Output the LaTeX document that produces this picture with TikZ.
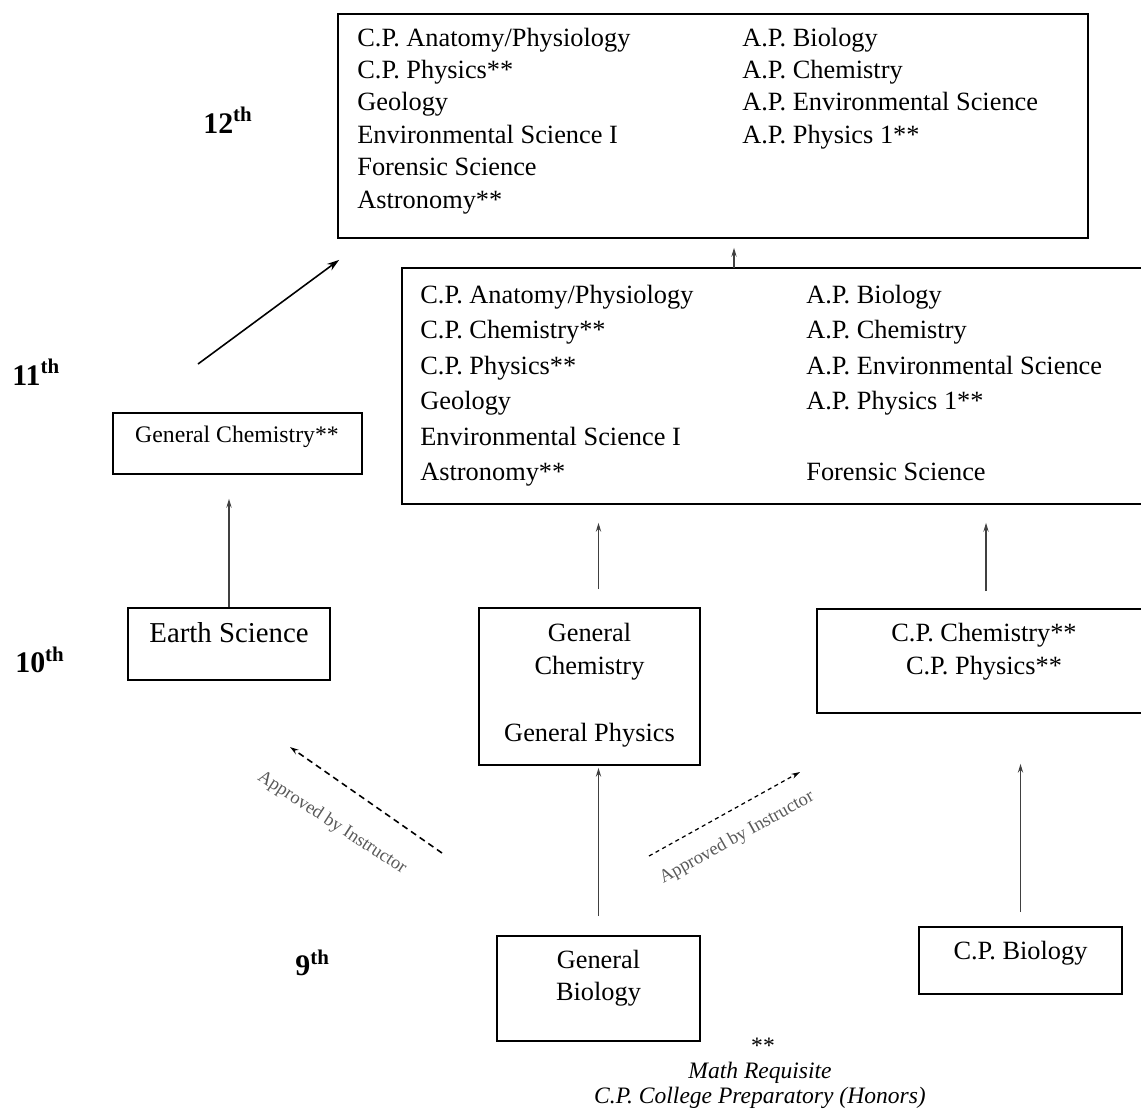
\documentclass[tikz,border=0pt]{standalone}
\usepackage{fontspec}
\setmainfont{Liberation Serif}
\usetikzlibrary{calc,fit,arrows.meta}
\tikzset{>={Stealth[length=5pt,width=3pt]}}
\tikzset{
  box/.style={draw,line width=1pt,inner sep=0pt},
  item/.style={anchor=base west,inner sep=0pt,font=\fontsize{15}{18}\selectfont},
  ctext/.style={anchor=base,inner sep=0pt,font=\fontsize{15}{18}\selectfont},
  grade/.style={anchor=base west,inner sep=0pt,font=\fontsize{17}{20}\selectfont\bfseries},
  link/.style={->,black!75,line width=0.6pt},
  approved/.style={->,line width=0.9pt},
  note/.style={inner sep=0pt,font=\fontsize{10.5}{12}\selectfont,text=black!65},
}

\begin{document}
\begin{tikzpicture}[x=0.02cm,y=-0.02cm]
\useasboundingbox (0,0) rectangle (1141,1113);
% grades
\node[grade] (g12) at (203,133) {12\textsuperscript{th}};
\node[grade] (g11) at (12,385) {11\textsuperscript{th}};
\node[grade] (g10) at (15,672) {10\textsuperscript{th}};
\node[grade] (g9) at (295,975) {9\textsuperscript{th}};

% 12th
\node[box,fit={(338,14) (1088,238)}] (y12) {};
\foreach \c [count=\i] in {C.P. Anatomy/Physiology,C.P. Physics**,Geology,Environmental Science I,Forensic Science,Astronomy**}
  \node[item] (l12\i) at (357,{46+32.4*(\i-1)}) {\c};
\foreach \c [count=\i] in {A.P. Biology,A.P. Chemistry,A.P. Environmental Science,A.P. Physics 1**}
  \node[item] (r12\i) at (742,{46+32.4*(\i-1)}) {\c};

% 11th
\node[box,fit={(402,268) (1170,504)}] (y11) {};
\foreach \c [count=\i] in {C.P. Anatomy/Physiology,C.P. Chemistry**,C.P. Physics**,Geology,Environmental Science I,Astronomy**}
  \node[item] (l11\i) at (420,{303+35.5*(\i-1)}) {\c};
\foreach \c [count=\i] in {A.P. Biology,A.P. Chemistry,A.P. Environmental Science,A.P. Physics 1**}
  \node[item] (r11\i) at (806,{303+35.5*(\i-1)}) {\c};
\node[item] (r11f) at (806,480.5) {Forensic Science};

\node[box,fit={(113,413) (362,474)}] (gc11) {};
\node[ctext,font=\fontsize{13.5}{16}\selectfont] (gc11t) at (237,442) {General Chemistry**};

% 10th
\node[box,fit={(128,608) (330,680)}] (earth) {};
\node[ctext,font=\fontsize{16.4}{19}\selectfont] (eartht) at (229,642) {Earth Science};

\node[box,fit={(479,608) (700,765)}] (gen10) {};
\node[ctext] (gen10a) at (589.5,641) {General};
\node[ctext] (gen10b) at (589.5,674) {Chemistry};
\node[ctext] (gen10c) at (589.5,741) {General Physics};

\node[box,fit={(817,609) (1155,713)}] (cp10) {};
\node[ctext] (cp10a) at (984,641) {C.P. Chemistry**};
\node[ctext] (cp10b) at (984,674) {C.P. Physics**};

% 9th
\node[box,fit={(497,936) (700,1041)}] (genbio) {};
\node[ctext] (genbioa) at (598.5,968) {General};
\node[ctext] (genbiob) at (598.5,1000) {Biology};

\node[box,fit={(919,927) (1122,994)}] (cpbio) {};
\node[ctext] (cpbiot) at (1020.5,959) {C.P. Biology};

% links
\coordinate (up12) at (734,268);
\draw[link,shorten >=0.18cm] (up12) -- (up12 |- y12.south);
\coordinate (dg) at (198,364);
\draw[->,line width=0.9pt,>={Stealth[length=7pt,width=4.5pt]}] (dg) -- ($(y12.south west)+(2,21)$);
\draw[link,shorten >=0.48cm] (earth.north) -- (earth.north |- gc11.south);
\draw[link,shorten <=0.36cm,shorten >=0.36cm] (genbio.north |- gen10.north) -- (genbio.north |- y11.south);
\draw[link,shorten <=0.34cm,shorten >=0.36cm] (cp10.north) -- (cp10.north |- y11.south);
\draw[link,shorten <=0.38cm,shorten >=0.04cm] (genbio.north) -- (genbio.north |- gen10.south);
\draw[link,shorten <=0.28cm,shorten >=1cm] (cpbio.north) -- (cpbio.north |- cp10.south);

% approved by instructor
\coordinate (ap1) at (442,853);
\coordinate (ap1e) at (290,747);
\draw[approved,dash pattern=on 3.5pt off 2.5pt] (ap1) -- (ap1e);
\node[note,rotate=-33] (ap1t) at (332,823) {Approved by Instructor};
\coordinate (ap2) at (649,856);
\coordinate (ap2e) at (800,772);
\draw[approved,line width=0.7pt,dash pattern=on 2.3pt off 2pt] (ap2) -- (ap2e);
\node[note,rotate=29] (ap2t) at (737,838) {Approved by Instructor};

% key
\node[ctext,font=\fontsize{13.4}{16}\selectfont] (star) at (763,1053) {**};
\node[ctext,font=\fontsize{13.4}{16}\selectfont\itshape] (mathreq) at (760,1078) {Math Requisite};
\node[ctext,font=\fontsize{13.4}{16}\selectfont\itshape] (cpnote) at (760,1103) {C.P. College Preparatory (Honors)};
\end{tikzpicture}
\end{document}
